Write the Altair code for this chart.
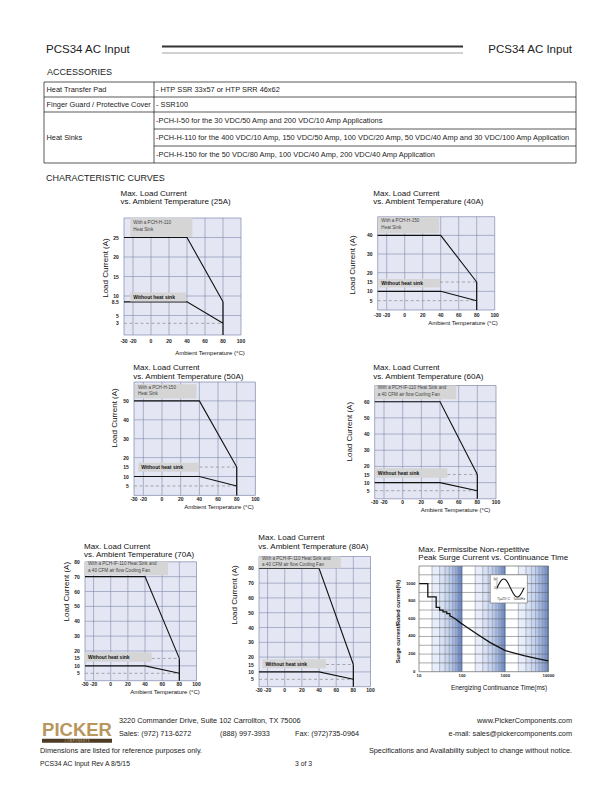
import altair as alt
import pandas as pd

W, H = 612, 792
SANS = "Liberation Sans, Arial, sans-serif"
PLOT_BG = "#e4e7f3"
GRID = "#7f88ad"

# ---------------- data ----------------
TEMP_BREAKS = [-30, 40, 80]
X_TICKS = [-30, -20, 0, 20, 40, 60, 80, 100]
X_GRID = [-20, 0, 20, 40, 60, 80]

HS_25A = [25, 25, 8.5]
NOHS_25A = [8.5, 8.5, 3]
YT_25A = [3, 5, 8.5, 10, 15, 20, 25]
YG_25A = [5, 10, 15, 20, 25]

HS_40A = [40, 40, 15]
NOHS_40A = [10, 10, 5]
YT_40A = [5, 10, 15, 20, 30, 40]
YG_40A = [10, 20, 30, 40]

HS_50A = [50, 50, 15]
NOHS_50A = [10, 10, 5]
YT_50A = [5, 10, 15, 20, 30, 40, 50]
YG_50A = [10, 20, 30, 40, 50]

HS_60A = [60, 60, 15]
NOHS_60A = [10, 10, 5]
YT_60A = [5, 10, 15, 20, 30, 40, 50, 60]
YG_60A = [10, 20, 30, 40, 50, 60]

HS_70A = [70, 70, 15]
NOHS_70A = [10, 10, 5]
YT_70A = [5, 10, 15, 20, 30, 40, 50, 60, 70, 80]
YG_70A = [10, 20, 30, 40, 50, 60, 70]

HS_80A = [80, 80, 15]
NOHS_80A = [10, 10, 5]
YT_80A = [5, 10, 15, 20, 30, 40, 50, 60, 70, 80]
YG_80A = [10, 20, 30, 40, 50, 60, 70, 80]

SURGE_T = [10, 16, 16, 25, 25, 30, 30, 36, 36, 44, 44, 52, 52, 62, 70, 90, 117, 220, 447, 1000, 2700, 5500, 10000]
SURGE_PCT = [1000, 1000, 850, 850, 730, 730, 700, 700, 680, 680, 660, 660, 635, 615, 598, 557, 519, 428, 330, 239, 182, 148, 122]
SURGE_X_TICKS = [10, 100, 1000, 10000]
SURGE_Y_TICKS = [0, 200, 400, 600, 800, 1000]
SURGE_Y_GRID = [100, 200, 300, 400, 500, 600, 700, 800, 900, 1000, 1100]
DECADES = [10, 100, 1000]
BAND_K = [2, 3, 4, 5, 6, 7, 8, 9]
BAND_COLORS = ["#e8edf7", "#d9e1f1", "#c9d5eb", "#b8c7e3", "#a6b8db", "#92a8d1", "#7c95c5", "#5f7cb5"]

SINE_PHASE = [0, 0.083, 0.167, 0.25, 0.333, 0.417, 0.5, 0.583, 0.667, 0.75, 0.833, 0.917, 1.0]
SINE_VAL = [0, 0.5, 0.87, 1, 0.87, 0.5, 0, -0.5, -0.87, -1, -0.87, -0.5, 0]

# ---------------- layout (positions only) ----------------
BOX1_A = ("With a PCH-H-110", "Heat Sink")
BOX1_B = ("With a PCH-H-150", "Heat Sink")
BOX1_C = ("With a PCH-IF-110 Heat Sink and", "a 40 CFM air flow Cooling  Fan")

LAYOUT = {
    "25A": dict(x0=124, x1=241, yb=335, yt=218, ymax=30, title=(120.5, 193.5), xdy=4,
                ytitle=(105.5, 268), xtitle=(210, 352.5),
                box1=(-23, 46, 25.2, 30), box1_y=(28.6, 26.9), box1_text=BOX1_A,
                box2=(-23, 39, 8.6, 10.9), box2_y=9.75, hi_dash=False),
    "40A": dict(x0=377.7, x1=494.7, yb=310, yt=216.7, ymax=50, title=(373.3, 193.5), xdy=2.5,
                ytitle=(352.7, 265), xtitle=(463, 322.7),
                box1=(-29.3, 38.4, 41.1, 50), box1_y=(47.7, 44.1), box1_text=BOX1_B,
                box2=(-29.3, 39.2, 12, 16.6), box2_y=14.3, hi_dash=True),
    "50A": dict(x0=134, x1=255.4, yb=495.4, yt=382, ymax=60, title=(133.3, 368.3), xdy=2,
                ytitle=(115, 418), xtitle=(219, 506.7),
                box1=(-29, 37, 51.3, 58.8), box1_y=(57, 53.8), box1_text=BOX1_B,
                box2=(-25.4, 40, 12.5, 17.3), box2_y=14.9, hi_dash=True),
    "60A": dict(x0=374.7, x1=496, yb=498.8, yt=385.5, ymax=70, title=(373.3, 368.3), xdy=1,
                ytitle=(350, 431.7), xtitle=(455.5, 510.3),
                box1=(-30, 57.5, 61.5, 70), box1_y=(68.3, 64.2), box1_text=BOX1_C,
                box2=(-30, 47.8, 13, 18.8), box2_y=16.1, hi_dash=True),
    "70A": dict(x0=85, x1=196.5, yb=680.7, yt=561.8, ymax=80, title=(84, 546.7), xdy=1.5,
                ytitle=(66.7, 591.7), xtitle=(165, 692.3),
                box1=(-30, 66.8, 71, 80), box1_y=(78.3, 73.8), box1_text=BOX1_C,
                box2=(-30, 47.7, 12.8, 19.1), box2_y=16.2, hi_dash=True),
    "80A": dict(x0=259, x1=370.5, yb=686.7, yt=556.5, ymax=88, title=(258.3, 538.3), xdy=1,
                ytitle=(235, 595), xtitle=None,
                box1=(-30, 65.5, 80, 88), box1_y=(86.1, 82.2), box1_text=BOX1_C,
                box2=(-26, 48, 12.4, 18.5), box2_y=15.3, hi_dash=True),
}


def page_text(rows, **kw):
    df = pd.DataFrame(rows, columns=["text", "x", "y"])
    opts = dict(baseline="middle", align="left", font=SANS, color="#222")
    opts.update(kw)
    return alt.Chart(df).mark_text(**opts).encode(
        x=alt.X("x:Q", scale=None, axis=None),
        y=alt.Y("y:Q", scale=None, axis=None),
        text="text:N",
    )


def page_rules(rows, **kw):
    df = pd.DataFrame(rows, columns=["x", "x2", "y", "y2"])
    opts = dict(color="#111", strokeWidth=0.8)
    opts.update(kw)
    return alt.Chart(df).mark_rule(**opts).encode(
        x=alt.X("x:Q", scale=None, axis=None), x2="x2:Q",
        y=alt.Y("y:Q", scale=None, axis=None), y2="y2:Q",
    )


def tick_layers(ex, ey, xticks, yticks, x_at, y_at, size, xdy, ydx):
    lab_style = dict(fontSize=size, fontWeight="bold", font=SANS, color="#222")
    xl = alt.Chart(pd.DataFrame({"v": xticks, "y": y_at, "lab": [f"{v:g}" for v in xticks]})).mark_text(
        baseline="top", align="center", dy=xdy, **lab_style
    ).encode(x=ex("v"), y=ey("y"), text="lab:N")
    yl = alt.Chart(pd.DataFrame({"v": yticks, "x": x_at, "lab": [f"{v:g}" for v in yticks]})).mark_text(
        baseline="middle", align="right", dx=-ydx, **lab_style
    ).encode(x=ex("x"), y=ey("v"), text="lab:N")
    return [xl, yl]


def derating(name, hs, nohs, yticks, ygrid):
    L = LAYOUT[name]
    xs = alt.Scale(domain=[-30, 100], range=[L["x0"], L["x1"]], nice=False, zero=False)
    ys = alt.Scale(domain=[0, L["ymax"]], range=[L["yb"], L["yt"]], nice=False, zero=False)

    def ex(f):
        return alt.X(f, type="quantitative", scale=xs, axis=None)

    def ey(f):
        return alt.Y(f, type="quantitative", scale=ys, axis=None)

    frame = alt.Chart(pd.DataFrame({"x": [-30], "x2": [100], "y": [0], "y2": [L["ymax"]]})).mark_rect(
        fill=PLOT_BG, stroke=GRID, strokeWidth=0.7
    ).encode(x=ex("x"), x2=alt.X2("x2"), y=ey("y"), y2=alt.Y2("y2"))

    vg = alt.Chart(pd.DataFrame({"x": X_GRID, "y": 0, "y2": L["ymax"]})).mark_rule(
        color=GRID, strokeWidth=0.6
    ).encode(x=ex("x"), y=ey("y"), y2=alt.Y2("y2"))
    hg = alt.Chart(pd.DataFrame({"y": ygrid, "x": -30, "x2": 100})).mark_rule(
        color=GRID, strokeWidth=0.6
    ).encode(y=ey("y"), x=ex("x"), x2=alt.X2("x2"))

    drows = {"x": [-30], "x2": [TEMP_BREAKS[-1]], "y": [nohs[-1]]}
    if L["hi_dash"]:
        drows["x"].append(L["box2"][1])
        drows["x2"].append(TEMP_BREAKS[-1])
        drows["y"].append(hs[-1])
    dashes = alt.Chart(pd.DataFrame(drows)).mark_rule(
        color="#8a8a8a", strokeWidth=0.7, strokeDash=[3, 2.5]
    ).encode(x=ex("x"), x2=alt.X2("x2"), y=ey("y"))

    cur = pd.DataFrame({"t": TEMP_BREAKS * 2, "a": hs + nohs, "s": ["hs"] * 3 + ["no"] * 3})
    lines = alt.Chart(cur).mark_line(color="#111", strokeWidth=1.1).encode(
        x=ex("t"), y=ey("a"), detail="s:N")
    drop = alt.Chart(pd.DataFrame({"t": [TEMP_BREAKS[-1]], "a": [hs[-1]], "z": [0]})).mark_rule(
        color="#111", strokeWidth=1.2).encode(x=ex("t"), y=ey("a"), y2=alt.Y2("z"))

    b1, b2 = L["box1"], L["box2"]
    boxes = alt.Chart(pd.DataFrame({"x": [b1[0], b2[0]], "x2": [b1[1], b2[1]],
                                    "y": [b1[2], b2[2]], "y2": [b1[3], b2[3]]})).mark_rect(
        fill="#d5d5d5").encode(x=ex("x"), x2=alt.X2("x2"), y=ey("y"), y2=alt.Y2("y2"))
    t1 = alt.Chart(pd.DataFrame({"x": [b1[0], b1[0]], "y": list(L["box1_y"]),
                                 "text": list(L["box1_text"])})).mark_text(
        align="left", baseline="middle", dx=3, fontSize=4.6, font=SANS, color="#444"
    ).encode(x=ex("x"), y=ey("y"), text="text:N")
    t2 = alt.Chart(pd.DataFrame({"x": [b2[0]], "y": [L["box2_y"]], "text": ["Without heat sink"]})).mark_text(
        align="left", baseline="middle", dx=3, fontSize=5, font=SANS, fontWeight="bold", color="#111"
    ).encode(x=ex("x"), y=ey("y"), text="text:N")

    ticks = tick_layers(ex, ey, X_TICKS, yticks, -30, 0, 5, L["xdy"], 5.2)
    return alt.layer(frame, vg, hg, dashes, lines, drop, boxes, t1, t2, *ticks)


def surge_panel():
    xs = alt.Scale(type="log", domain=[10, 10000], range=[419, 548.5], nice=False)
    ys = alt.Scale(domain=[0, 1200], range=[671.7, 566], nice=False, zero=False)

    def ex(f):
        return alt.X(f, type="quantitative", scale=xs, axis=None)

    def ey(f):
        return alt.Y(f, type="quantitative", scale=ys, axis=None)

    frame = alt.Chart(pd.DataFrame({"x": [10], "x2": [10000], "y": [0], "y2": [1200]})).mark_rect(
        fill="white").encode(x=ex("x"), x2=alt.X2("x2"), y=ey("y"), y2=alt.Y2("y2"))

    band_rows = []
    for d in DECADES:
        for k, c in zip(BAND_K, BAND_COLORS):
            band_rows.append({"x": k * d, "x2": (k + 1) * d, "y": 0, "y2": 1200, "c": c})
    bands = alt.Chart(pd.DataFrame(band_rows)).mark_rect().encode(
        x=ex("x"), x2=alt.X2("x2"), y=ey("y"), y2=alt.Y2("y2"),
        color=alt.Color("c:N", scale=None))

    vlines = [k * d for d in DECADES for k in BAND_K] + [100, 1000]
    vg = alt.Chart(pd.DataFrame({"x": vlines, "y": 0, "y2": 1200})).mark_rule(
        color="#6f7fa8", strokeWidth=0.5).encode(x=ex("x"), y=ey("y"), y2=alt.Y2("y2"))
    hg = alt.Chart(pd.DataFrame({"y": SURGE_Y_GRID, "x": 10, "x2": 10000})).mark_rule(
        color="#555", strokeWidth=0.5).encode(y=ey("y"), x=ex("x"), x2=alt.X2("x2"))
    border = alt.Chart(pd.DataFrame({"x": [10], "x2": [10000], "y": [0], "y2": [1200]})).mark_rect(
        fill=None, stroke="#666", strokeWidth=0.7).encode(x=ex("x"), x2=alt.X2("x2"), y=ey("y"), y2=alt.Y2("y2"))

    curve = alt.Chart(pd.DataFrame({"t": SURGE_T, "p": SURGE_PCT, "i": list(range(len(SURGE_T)))})).mark_line(
        color="#111", strokeWidth=1.3).encode(x=ex("t"), y=ey("p"), order="i:Q")

    inset = alt.Chart(pd.DataFrame({"x": [448], "x2": [3240], "y": [780], "y2": [1100]})).mark_rect(
        fill="white", stroke="#666", strokeWidth=0.6).encode(x=ex("x"), x2=alt.X2("x2"), y=ey("y"), y2=alt.Y2("y2"))

    ticks = tick_layers(ex, ey, SURGE_X_TICKS, SURGE_Y_TICKS, 10, 0, 4.3, 2, 3.5)
    return alt.layer(frame, bands, vg, hg, curve, inset, border, *ticks)


def sine_inset():
    xs = alt.Scale(domain=[0, 1], range=[497, 524], nice=False, zero=False)
    ys = alt.Scale(domain=[-1, 1], range=[597, 579], nice=False, zero=False)
    wave = alt.Chart(pd.DataFrame({"p": SINE_PHASE, "v": SINE_VAL})).mark_line(
        color="#111", strokeWidth=1.1, interpolate="monotone").encode(
        x=alt.X("p:Q", scale=xs, axis=None), y=alt.Y("v:Q", scale=ys, axis=None))
    axes = alt.Chart(pd.DataFrame({"x": [0, 0], "x2": [0, 1.05], "y": [-0.2, 0], "y2": [1.2, 0]})).mark_rule(
        color="#333", strokeWidth=0.4).encode(
        x=alt.X("x:Q", scale=xs, axis=None), x2="x2:Q", y=alt.Y("y:Q", scale=ys, axis=None), y2="y2:Q")
    labels = alt.Chart(pd.DataFrame({"x": [-0.13, -0.1, 0.0, 0.62], "y": [1.0, 0.0, -1.25, -1.25],
                                     "text": ["Ip", "0", "Tj=25°C", "f=60Hz"]})).mark_text(
        fontSize=3.6, font=SANS, color="#333", align="left", baseline="middle").encode(
        x=alt.X("x:Q", scale=xs, axis=None), y=alt.Y("y:Q", scale=ys, axis=None), text="text:N")
    return alt.layer(wave, axes, labels)


panels = [
    derating("25A", HS_25A, NOHS_25A, YT_25A, YG_25A),
    derating("40A", HS_40A, NOHS_40A, YT_40A, YG_40A),
    derating("50A", HS_50A, NOHS_50A, YT_50A, YG_50A),
    derating("60A", HS_60A, NOHS_60A, YT_60A, YG_60A),
    derating("70A", HS_70A, NOHS_70A, YT_70A, YG_70A),
    derating("80A", HS_80A, NOHS_80A, YT_80A, YG_80A),
    surge_panel(),
    sine_inset(),
]

# ---------- page furniture ----------
title_rows = []
ytitle_rows = []
xtitle_rows = []
for nm, L in LAYOUT.items():
    tx, ty = L["title"]
    title_rows.append(("Max. Load Current", tx, ty))
    title_rows.append((f"vs. Ambient Temperature ({nm})", tx, ty + 8.4))
    ytitle_rows.append(("Load  Current (A)", *L["ytitle"]))
    if L["xtitle"]:
        xtitle_rows.append(("Ambient Temperature (°C)", *L["xtitle"]))
title_rows.append(("Max. Permissibe Non-repetitive", 418.3, 550))
title_rows.append(("Peak Surge Current vs. Continuance Time", 418.3, 558.4))

TBL_L, TBL_R, TBL_D = 44, 576, 154

furniture = [
    page_text([("PCS34 AC Input", 46, 50)], fontSize=11.5, color="#222"),
    page_text([("PCS34 AC Input", 572, 50)], fontSize=11.5, color="#222", align="right"),
    page_rules([(162, 463, 46.5, 46.5)], strokeWidth=2, color="#333"),
    page_rules([(162, 463, 53, 53)], strokeWidth=0.6, color="#666"),
    page_text([("ACCESSORIES", 47, 72), ("CHARACTERISTIC CURVES", 46, 178)], fontSize=9),
    # table
    page_rules([(TBL_L, TBL_R, 82, 82), (TBL_L, TBL_R, 97, 97), (TBL_L, TBL_R, 112, 112),
                (TBL_D, TBL_R, 129, 129), (TBL_D, TBL_R, 146, 146), (TBL_L, TBL_R, 163, 163),
                (TBL_L, TBL_L, 82, 163), (TBL_R, TBL_R, 82, 163), (TBL_D, TBL_D, 82, 163)],
               strokeWidth=0.7),
    page_text([("Heat Transfer Pad", TBL_L + 2.5, 89.5), ("Finger Guard / Protective Cover", TBL_L + 2.5, 104.5),
               ("Heat Sinks", TBL_L + 2.5, 138),
               ("- HTP SSR 33x57 or HTP SRR 46x62", TBL_D + 2, 89.5), ("- SSR100", TBL_D + 2, 104.5),
               ("-PCH-I-50 for the 30 VDC/50 Amp and 200 VDC/10 Amp Applications", TBL_D + 2, 120.5),
               ("-PCH-H-110 for the 400 VDC/10 Amp, 150 VDC/50 Amp, 100 VDC/20 Amp, 50 VDC/40 Amp and 30 VDC/100 Amp Application", TBL_D + 2, 137.5),
               ("-PCH-H-150 for the 50 VDC/80 Amp, 100 VDC/40 Amp, 200 VDC/40 Amp Application", TBL_D + 2, 154.5)],
              fontSize=7.4, color="#222"),
    # chart titles
    page_text(title_rows, fontSize=8, color="#111"),
    page_text(ytitle_rows, fontSize=8, color="#111", angle=270, align="center"),
    page_text(xtitle_rows, fontSize=6, color="#111", align="center"),
    page_text([("Surge current/Rated current(%)", 397.5, 621.5)], fontSize=5.6, color="#111",
              angle=270, align="center", fontWeight="bold"),
    page_text([("Energizing Continuance Time(ms)", 499, 688.3)], fontSize=6.4, color="#111", align="center"),
    # footer
    page_rules([(42, 112, 740.8, 740.8)], strokeWidth=4, color="#4b3b25"),
    page_text([("PICKER", 77, 736)], fontSize=18.5, fontWeight="bold", color="#b8965c",
              align="center", baseline="alphabetic"),
    page_text([("C O M P O N E N T S", 77, 741)], fontSize=2.6, color="#d8c08a", align="center"),
    page_text([("3220 Commander Drive, Suite 102  Carrollton, TX  75006", 119, 721),
               ("Sales: (972) 713-6272", 119, 734), ("(888) 997-3933", 220, 734),
               ("Fax: (972)735-0964", 295, 734),
               ("Dimensions are listed for reference purposes only.", 40, 751)],
              fontSize=7.3, color="#222"),
    page_text([("www.PickerComponents.com", 572, 721), ("e-mail: sales@pickercomponents.com", 572, 734),
               ("Specifications and Availability subject to change without notice.", 572, 751)],
              fontSize=7.3, color="#222", align="right"),
    page_text([("PCS34 AC Input Rev A 8/5/15", 40, 764), ("3 of 3", 295, 764)],
              fontSize=6.8, color="#222"),
]

chart = alt.layer(*panels, *furniture).resolve_scale(
    x="independent", y="independent"
).properties(
    width=W, height=H, padding=0, autosize=alt.AutoSizeParams(type="none"), background="white"
).configure_view(stroke=None)

chart.save("out.html", embed_options={"renderer": "svg", "actions": False})
